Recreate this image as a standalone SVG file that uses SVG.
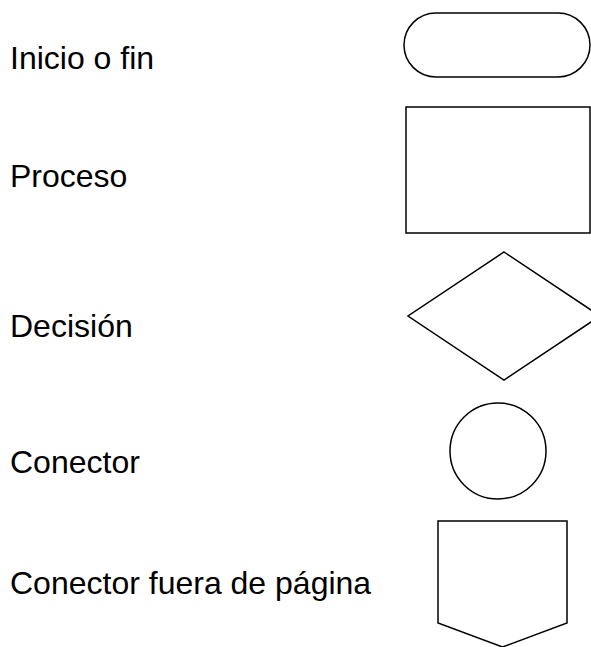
<svg xmlns="http://www.w3.org/2000/svg" width="591" height="647" viewBox="0 0 591 647">
<style>
.s{fill:#fff;stroke:#000;stroke-width:1.5}
.t{font-family:"Liberation Sans",Arial,sans-serif;font-size:32px;fill:#000}
</style>
<rect width="591" height="647" fill="#fff"/>
<g id="connectors"></g>
<g id="inicio"><rect class="s" x="404" y="13" width="186" height="64" rx="32" ry="32"/><text class="t" x="10" y="69">Inicio o fin</text></g>
<g id="proceso"><rect class="s" x="406" y="107" width="184" height="126"/><text class="t" x="10" y="187">Proceso</text></g>
<g id="decision"><polygon class="s" points="504,252 600,316 504,380 408,316"/><text class="t" x="10" y="337">Decisión</text></g>
<g id="conector"><circle class="s" cx="498" cy="451" r="48"/><text class="t" x="10" y="473">Conector</text></g>
<g id="fuera"><polygon class="s" points="438,521 567,521 567,623 502.5,647 438,623"/><text class="t" x="10" y="594">Conector fuera de página</text></g>
</svg>
